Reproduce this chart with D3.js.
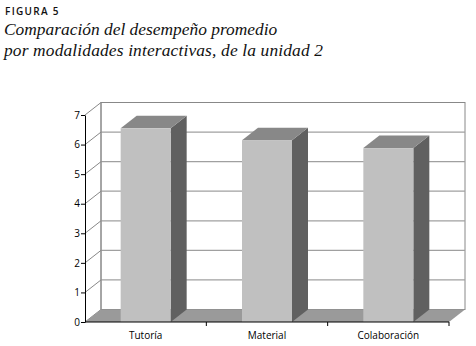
<!DOCTYPE html>
<html><head><meta charset="utf-8">
<script src="https://cdn.jsdelivr.net/npm/d3@7"></script>
<style>body{margin:0;background:#fff}svg{display:block}</style>
</head><body>
<script>
const categories = ["Tutoría", "Material", "Colaboración"];
const values = [6.55, 6.15, 5.88];
const yTicks = [0, 1, 2, 3, 4, 5, 6, 7];

const W = 476, H = 346;
const svg = d3.select("body").append("svg").attr("width", W).attr("height", H);

// titles
svg.append("text").attr("x", 5).attr("y", 14.5)
  .attr("font-family", "'Open Sans', sans-serif").attr("font-weight", 600)
  .attr("font-size", 10).attr("letter-spacing", 1.3).attr("fill", "#111").text("FIGURA 5");
svg.append("text").attr("x", 4).attr("y", 35)
  .attr("font-family", "'Liberation Serif', serif").attr("font-style", "italic")
  .attr("font-size", 17.4).attr("fill", "#111").text("Comparación del desempeño promedio");
svg.append("text").attr("x", 4).attr("y", 56)
  .attr("font-family", "'Liberation Serif', serif").attr("font-style", "italic")
  .attr("font-size", 17.4).attr("letter-spacing", 0.15).attr("fill", "#111").text("por modalidades interactivas, de la unidad 2");

const x0 = 85, x1 = 449, yBase = 322, yTop = 115;
const dx = 16, dy = -12.5;
const x = d3.scaleBand().domain(categories).range([x0, x1]);
const y = d3.scaleLinear().domain([0, 7]).range([yBase, yTop]);
const barW = 50;

const g = svg.append("g");
// back wall
g.append("rect").attr("x", x0 + dx).attr("y", y(7) + dy)
  .attr("width", x1 - x0).attr("height", y(0) - y(7))
  .attr("fill", "#fff").attr("stroke", "#888").attr("stroke-width", 1);
// gridlines on back wall
g.selectAll(".grid").data(yTicks.slice(1, -1)).enter().append("line")
  .attr("x1", x0 + dx).attr("x2", x1 + dx)
  .attr("y1", d => y(d) + dy).attr("y2", d => y(d) + dy)
  .attr("stroke", "#a0a0a0").attr("stroke-width", 1.2);
// left wall diagonals
g.selectAll(".diag").data(yTicks).enter().append("line")
  .attr("x1", x0).attr("x2", x0 + dx)
  .attr("y1", d => y(d)).attr("y2", d => y(d) + dy)
  .attr("stroke", "#888").attr("stroke-width", 1);
g.append("line").attr("x1", x0 + dx).attr("x2", x0 + dx)
  .attr("y1", y(7) + dy).attr("y2", y(0) + dy).attr("stroke", "#888");
// floor
g.append("polygon")
  .attr("points", [[x0, yBase], [x1, yBase], [x1 + dx, yBase + dy], [x0 + dx, yBase + dy]].map(p => p.join(",")).join(" "))
  .attr("fill", "#9a9a9a");

// bars
const bars = g.selectAll(".bar").data(categories.map((c, i) => ({c, v: values[i]}))).enter().append("g");
bars.each(function(d) {
  const gb = d3.select(this);
  const cx = x(d.c) + x.bandwidth() / 2;
  const L = cx - barW / 2, R = cx + barW / 2, T = y(d.v);
  gb.append("polygon").attr("points",
    [[R, T], [R + dx, T + dy], [R + dx, yBase + dy], [R, yBase]].map(p => p.join(",")).join(" "))
    .attr("fill", "#606060");
  gb.append("polygon").attr("points",
    [[L, T], [L + dx, T + dy], [R + dx, T + dy], [R, T]].map(p => p.join(",")).join(" "))
    .attr("fill", "#888888");
  gb.append("rect").attr("x", L).attr("y", T).attr("width", barW).attr("height", yBase - T)
    .attr("fill", "#c0c0c0");
});

// y axis
const yAxis = d3.axisLeft(y).tickValues(yTicks).tickSize(4).tickSizeOuter(0).tickFormat(d3.format("d"));
const ya = svg.append("g").attr("transform", `translate(${x0},0)`).call(yAxis);
ya.select(".domain").attr("stroke", "#000");
ya.selectAll(".tick line").attr("stroke", "#000");
ya.selectAll("text").attr("font-family", "'Open Sans', sans-serif").attr("font-size", 10).attr("fill", "#000").attr("x", -5);

// x axis
svg.append("line").attr("x1", x0).attr("x2", x1).attr("y1", yBase).attr("y2", yBase).attr("stroke", "#000");
svg.selectAll(".xt").data(categories).enter().append("line")
  .attr("x1", d => x(d) + x.bandwidth()).attr("x2", d => x(d) + x.bandwidth())
  .attr("y1", yBase).attr("y2", yBase + 4).attr("stroke", "#000");
svg.selectAll(".xl").data(categories).enter().append("text")
  .attr("x", d => x(d) + x.bandwidth() / 2).attr("y", 339)
  .attr("text-anchor", "middle").attr("font-family", "'Open Sans', sans-serif")
  .attr("font-size", 10).attr("fill", "#000").text(d => d);
</script>
</body></html>
